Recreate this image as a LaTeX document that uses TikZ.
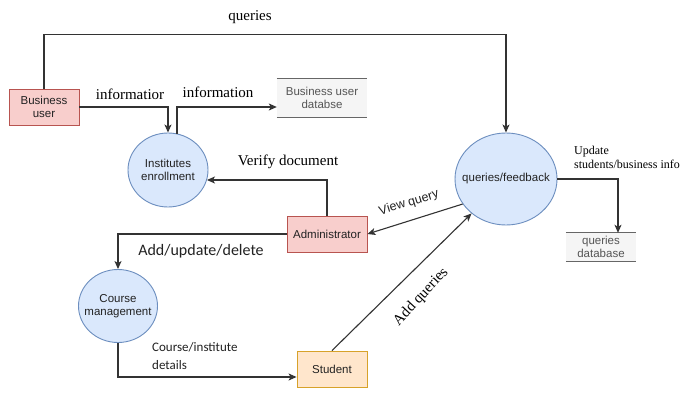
\documentclass[tikz,border=0pt]{standalone}
\usepackage{fontspec}
\setmainfont{Liberation Serif}
\setsansfont{Liberation Sans}
\newfontfamily\calib{Carlito}
\usetikzlibrary{arrows.meta,calc,shapes.geometric}
\definecolor{linec}{HTML}{333333}
\definecolor{txtc}{HTML}{222222}
\definecolor{dbtxt}{HTML}{555555}
\definecolor{redf}{HTML}{F8CECC}
\definecolor{redb}{HTML}{B85450}
\definecolor{bluef}{HTML}{DAE8FC}
\definecolor{blueb}{HTML}{6C8EBF}
\definecolor{orf}{HTML}{FFE6CC}
\definecolor{orb}{HTML}{D7A22A}
\definecolor{dbf}{HTML}{F5F5F5}
\definecolor{dbl}{HTML}{666666}
\begin{document}
\begin{tikzpicture}[x=1pt,y=-1pt,
  nfont/.style={font=\sffamily\fontsize{11.5}{13.5}\selectfont},
  proc/.style={ellipse, draw=blueb, fill=bluef, line width=0.9pt, inner sep=0pt},
  ptext/.style={nfont, text=txtc, align=center, inner sep=0pt},
  ent/.style={rectangle, draw, line width=0.9pt, inner sep=0pt, nfont, text=txtc, align=center},
  dbnode/.style={rectangle, fill=dbf, inner sep=0pt, nfont, text=dbtxt, align=center},
  dbline/.style={draw=dbl, line width=1pt},
  flow/.style={draw=linec, line width=1.1pt, -{Stealth[length=8pt,width=7pt,inset=2pt]}},
  serlbl/.style={font=\fontsize{15}{17}\selectfont, text=black, inner sep=0pt},
  smlbl/.style={font=\fontsize{12}{14}\selectfont, text=black, inner sep=0pt, align=left},
  callbl/.style={font=\calib\fontsize{16}{18}\selectfont, text=txtc, inner sep=0pt},
  calsm/.style={font=\calib\fontsize{13}{18}\selectfont, text=txtc, inner sep=0pt, align=left},
  sanslbl/.style={font=\sffamily\fontsize{12.5}{14}\selectfont, text=txtc, inner sep=0pt}
]
\fill[white] (0,0) rectangle (687,409);
\useasboundingbox (0,0) rectangle (687,409);

% nodes
\node[ent, fill=redf, draw=redb, minimum width=70pt, minimum height=36pt] (bu) at (44,107) {Business\\user};
\node[proc, minimum width=80pt, minimum height=74pt] (ie) at (168,170) {};
\node[ptext] (iet) at (ie.center) {Institutes\\enrollment};
\node[dbnode, minimum width=90pt, minimum height=38pt] (bdb) at (322,98) {Business user\\databse};
\draw[dbline] (bdb.north west) -- (bdb.north east);
\draw[dbline] (bdb.south west) -- (bdb.south east);
\node[proc, minimum width=102pt, minimum height=92pt] (qf) at (506,179) {};
\node[ptext] (qft) at (qf.center) {queries/feedback};
\node[dbnode, minimum width=70pt, minimum height=28pt] (qdb) at (601,247) {queries\\database};
\draw[dbline] (qdb.north west) -- (qdb.north east);
\draw[dbline] (qdb.south west) -- (qdb.south east);
\node[ent, fill=redf, draw=redb, minimum width=80pt, minimum height=36pt] (ad) at (327,234) {Administrator};
\node[proc, minimum width=79pt, minimum height=73pt] (cm) at (118,306) {};
\node[ptext] (cmt) at (cm.center) {Course\\management};
\node[ent, fill=orf, draw=orb, minimum width=70pt, minimum height=36pt] (st) at (332,369) {Student};

% connectors
\draw[flow] (bu.north) -- ($(bu.north)+(0,-54)$) -| (qf.north);
\draw[flow] (bu.east) -| (ie.north);
\draw[flow] ($(ie.north)+(9,1)$) |- ([yshift=-9pt]bdb.west);
\draw[flow] (ad.north) |- ([xshift=-1.5pt,yshift=-10pt]ie.east);
\draw[flow] (qf.-150) -- (ad.east);
\draw[flow] (st.north) -- (qf.-135);
\draw[flow] (qf.east) -| ($(qdb.north)+(17,0)$);
\draw[flow] (ad.west) -| (cm.north);
\draw[flow] (cm.south) |- ([yshift=-8pt]st.west);

% labels
\node[serlbl] (lq) at (250,17) {queries};
\node[serlbl] (li1) at (130,94) {informatior};
\node[serlbl] (li2) at (218,92) {information};
\node[serlbl] (lv) at (288,162) {Verify document};
\node[sanslbl, rotate=17] (lvq) at (409,203) {View query};
\node[serlbl, rotate=47] (laq) at (421,297) {Add queries};
\node[smlbl, anchor=west] (lu) at (574,157) {Update\\students/business info};
\node[callbl] (lad) at (201,251) {Add/update/delete};
\node[calsm, anchor=west] (lc) at (152,356) {Course/institute\\details};
\end{tikzpicture}
\end{document}
